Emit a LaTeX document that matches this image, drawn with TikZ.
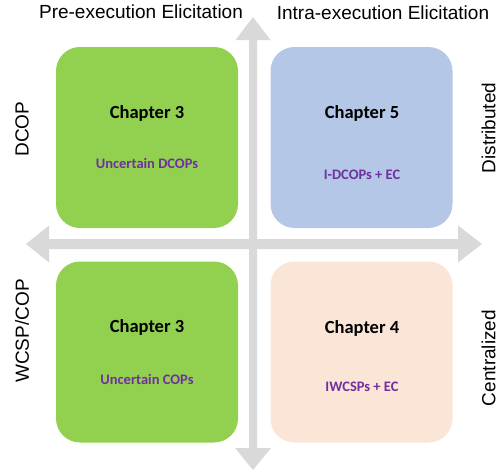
\documentclass[tikz,border=0pt]{standalone}
\usepackage{fontspec}
\setmainfont{Liberation Sans}
\newfontfamily\calib{Carlito}
\definecolor{axisgray}{HTML}{D9D9D9}
\definecolor{boxgreen}{HTML}{92D050}
\definecolor{boxblue}{HTML}{B4C7E7}
\definecolor{boxpeach}{HTML}{FBE5D6}
\definecolor{subpurple}{HTML}{7030A0}
\tikzset{
  quad/.style={rounded corners=24pt, draw=none, minimum width=182pt, minimum height=181pt, inner sep=0pt},
  chap/.style={font=\calib\bfseries\fontsize{18.5}{20}\selectfont, text=black},
  sub/.style={font=\calib\bfseries\fontsize{14.5}{16}\selectfont, text=subpurple},
  axlabel/.style={font=\fontsize{19}{21}\selectfont, text=black, inner sep=0pt},
}
\begin{document}
\begin{tikzpicture}[x=1pt,y=-1pt]
\useasboundingbox (0,0) rectangle (499,471);
% axes: double-headed block arrows
\fill[axisgray] (253,17) -- (270.5,40) -- (257,40) -- (257,448) -- (271,448) -- (253,470)
  -- (235,448) -- (249,448) -- (249,40) -- (235.5,40) -- cycle;
\fill[axisgray] (26,244) -- (49,225.5) -- (49,239) -- (458,239) -- (458,225.5) -- (482,244)
  -- (458,262.5) -- (458,249) -- (49,249) -- (49,262.5) -- cycle;
% quadrants
\node[quad, fill=boxgreen] (q1) at (147,137.5) {};
\node[quad, fill=boxblue] (q2) at (361.5,137.5) {};
\node[quad, fill=boxgreen] (q3) at (147,352) {};
\node[quad, fill=boxpeach] (q4) at (361.5,352) {};
\node[chap] (c1) at (147,113) {Chapter 3};
\node[sub] (s1) at (147,163) {Uncertain DCOPs};
\node[chap] (c2) at (362,113) {Chapter 5};
\node[sub] (s2) at (362,175) {I-DCOPs + EC};
\node[chap] (c3) at (147,327) {Chapter 3};
\node[sub] (s3) at (147,379) {Uncertain COPs};
\node[chap] (c4) at (362,328) {Chapter 4};
\node[sub] (s4) at (362,387) {IWCSPs + EC};
% axis labels
\node[axlabel] (top1) at (141,12) {Pre-execution Elicitation};
\node[axlabel] (top2) at (383,13) {Intra-execution Elicitation};
\node[axlabel, rotate=90] (l1) at (22,129) {DCOP};
\node[axlabel, rotate=90] (l2) at (22,331) {WCSP/COP};
\node[axlabel, rotate=90] (r1) at (488.5,128) {Distributed};
\node[axlabel, rotate=90] (r2) at (488.5,358) {Centralized};
\end{tikzpicture}
\end{document}
